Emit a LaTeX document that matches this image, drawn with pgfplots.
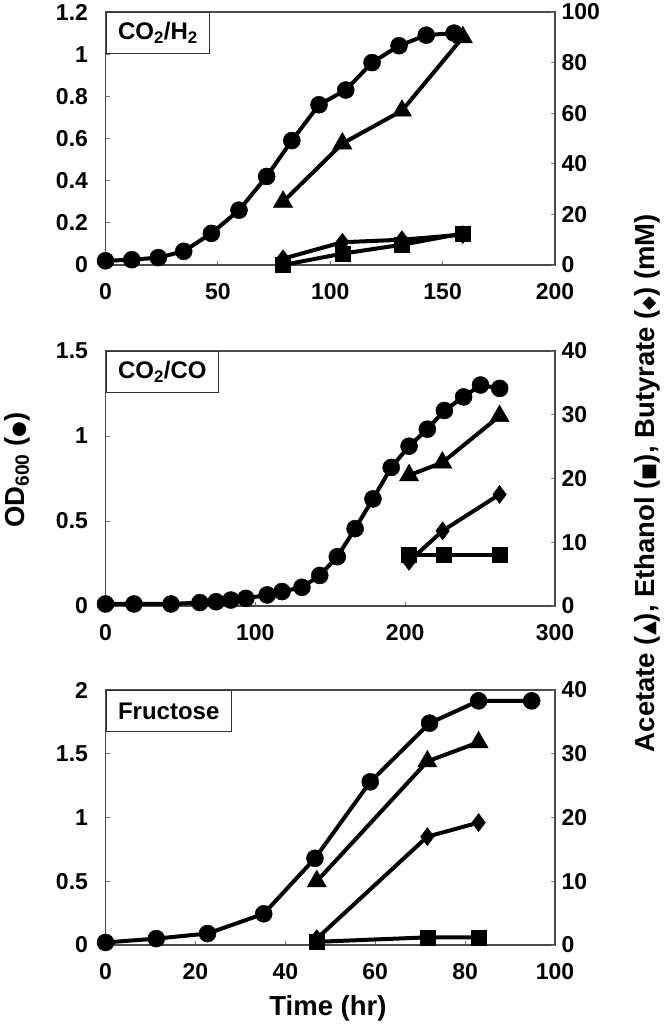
\documentclass[border=0pt]{standalone}
\usepackage{fontspec}
\setmainfont{Liberation Sans}
\newfontfamily\symfont{DejaVu Sans}
\usepackage{pgfplots}
\pgfplotsset{compat=1.18}

\newcommand{\sym}[1]{{\symfont\fontsize{18}{18}\selectfont #1}}

\pgfplotsset{
  panel/.style={
    scale only axis, width=449.5pt, clip=false,
    axis line style={draw=black!70, line width=1.3pt},
    tick style={draw=black!55, line width=0.8pt},
    major tick length=4pt, tick align=inside,
    ticklabel style={font=\fontsize{23}{23}\selectfont\bfseries},
    /pgf/number format/assume math mode=true,
  },
  leftax/.style={panel, tick pos=left,
    yticklabel style={xshift=-14pt},
    xticklabel style={yshift=-15pt}},
  rightax/.style={panel, axis x line=none, axis y line*=right,
    yticklabel style={xshift=3pt}},
  circ/.style={black, line width=4pt, mark=*, mark size=8.5pt, mark options={solid, fill=black, line width=0.5pt}},
  tri/.style={black, line width=4pt, mark=triangle*, mark size=11pt, mark options={solid, fill=black, line width=0.5pt}},
  sq/.style={black, line width=4pt, mark=square*, mark size=7.5pt, mark options={solid, fill=black, line width=0.5pt}},
  dia/.style={black, line width=4pt, mark=diamond*, mark size=9pt, mark options={solid, fill=black, line width=0.5pt}},
}
\tikzset{
  boxlab/.style={draw=black!80, line width=1pt, fill=white, anchor=north west, inner xsep=12pt, minimum height=41pt, font=\fontsize{24}{24}\selectfont\bfseries},
}

\begin{document}
\begin{tikzpicture}
\path[use as bounding box] (0,0) rectangle (666pt,-1028pt);

% ---------------- Panel 1: CO2/H2 ----------------
\begin{axis}[leftax, at={(105.5pt,-265pt)}, anchor=south west, height=253pt,
  xmin=0, xmax=200, ymin=0, ymax=1.2,
  xtick={0,50,100,150,200}, xticklabels={0,50,100,150,200},
  ytick={0,0.2,0.4,0.6,0.8,1,1.2}, yticklabels={0,0.2,0.4,0.6,0.8,1,1.2}]
\addplot[circ] coordinates {(0,0.02) (11.7,0.025) (23.5,0.035) (34.8,0.065) (47.1,0.15) (59.4,0.26) (71.7,0.42) (82.9,0.59) (95,0.76) (106.9,0.83) (118.6,0.96) (130.6,1.04) (142.7,1.09) (155.1,1.10)};
\node[boxlab] at (rel axis cs:0,1) {CO\textsubscript{2}/H\textsubscript{2}};
\end{axis}
\begin{axis}[rightax, at={(105.5pt,-265pt)}, anchor=south west, height=253pt,
  xmin=0, xmax=200, ymin=0, ymax=100,
  ytick={0,20,40,60,80,100}, yticklabels={0,20,40,60,80,100}]
\addplot[tri] coordinates {(79,25) (105.4,48) (131.9,61) (159,90)};
\addplot[dia] coordinates {(79,2.5) (105.4,9) (131.9,10) (159,12)};
\addplot[sq] coordinates {(79,0) (105.4,4.5) (131.9,8) (159,12.5)};
\end{axis}

% ---------------- Panel 2: CO2/CO ----------------
\begin{axis}[leftax, at={(105.5pt,-606pt)}, anchor=south west, height=255pt,
  xmin=0, xmax=300, ymin=0, ymax=1.5,
  xtick={0,100,200,300}, xticklabels={0,100,200,300},
  ytick={0,0.5,1,1.5}, yticklabels={0,0.5,1,1.5}]
\addplot[circ] coordinates {(0,0.012) (19,0.012) (43.7,0.012) (63,0.02) (73.8,0.025) (83.7,0.035) (93.7,0.045) (107.9,0.065) (117.8,0.085) (131.1,0.11) (143,0.18) (154.7,0.29) (166.6,0.455) (178.5,0.63) (190.7,0.815) (202.6,0.94) (214.8,1.04) (226.2,1.15) (239,1.23) (250.3,1.30) (263.1,1.28)};
\node[boxlab] at (rel axis cs:0,1) {CO\textsubscript{2}/CO};
\end{axis}
\begin{axis}[rightax, at={(105.5pt,-606pt)}, anchor=south west, height=255pt,
  xmin=0, xmax=300, ymin=0, ymax=40,
  ytick={0,10,20,30,40}, yticklabels={0,10,20,30,40}]
\addplot[tri] coordinates {(202.6,20.5) (224.8,22.5) (263,29.8)};
\addplot[dia] coordinates {(202.6,7) (225,11.8) (263,17.5)};
\addplot[sq] coordinates {(202.6,8) (225.6,8) (263,8)};
\end{axis}

% ---------------- Panel 3: Fructose ----------------
\begin{axis}[leftax, at={(105.5pt,-945pt)}, anchor=south west, height=255pt,
  xmin=0, xmax=100, ymin=0, ymax=2,
  xtick={0,20,40,60,80,100}, xticklabels={0,20,40,60,80,100},
  ytick={0,0.5,1,1.5,2}, yticklabels={0,0.5,1,1.5,2}]
\addplot[circ] coordinates {(0,0.02) (11.3,0.05) (22.7,0.09) (35.2,0.245) (46.6,0.68) (58.9,1.28) (72.1,1.74) (83,1.915) (94.8,1.915)};
\node[boxlab] at (rel axis cs:0,1) {Fructose};
\end{axis}
\begin{axis}[rightax, at={(105.5pt,-945pt)}, anchor=south west, height=255pt,
  xmin=0, xmax=100, ymin=0, ymax=40,
  ytick={0,10,20,30,40}, yticklabels={0,10,20,30,40}]
\addplot[tri] coordinates {(47,10) (71.6,28.8) (83,31.8)};
\addplot[dia] coordinates {(47,1) (71.6,17) (83,19.2)};
\addplot[sq] coordinates {(47,0.5) (71.6,1.2) (83,1.2)};
\end{axis}

% ---------------- Axis titles ----------------
\node[font=\fontsize{27.5}{27.5}\selectfont\bfseries] at (328pt,-1008pt) {Time (hr)};
\node[rotate=90, font=\fontsize{27.5}{27.5}\selectfont\bfseries] at (17pt,-470pt) {OD\textsubscript{600} (\sym{●})};
\node[rotate=90, font=\fontsize{27.5}{27.5}\selectfont\bfseries] at (647pt,-483pt) {Acetate (\sym{▲}), Ethanol (\sym{■}), Butyrate (\sym{◆}) (mM)};
\end{tikzpicture}
\end{document}
